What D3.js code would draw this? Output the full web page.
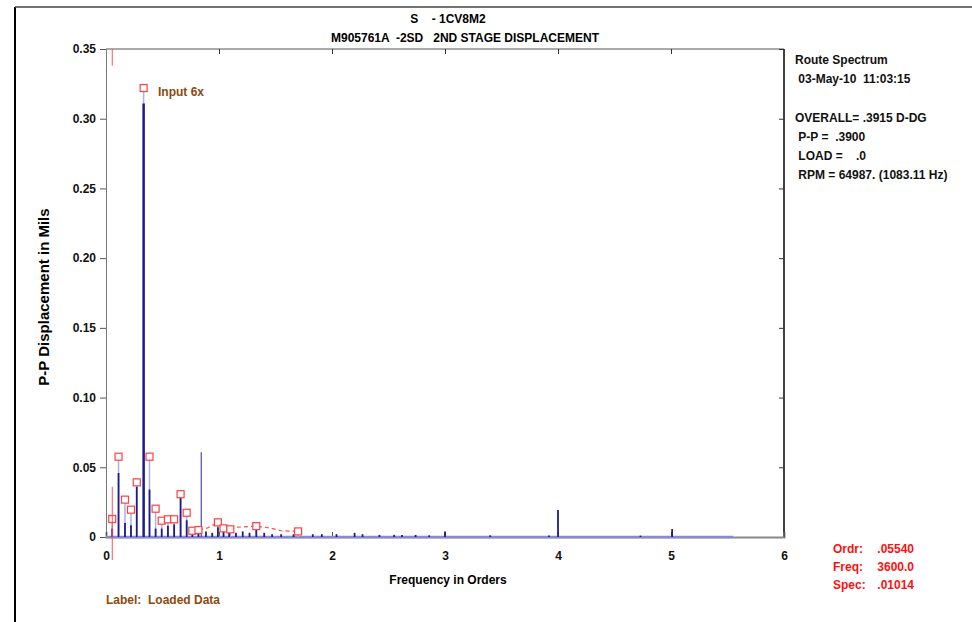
<!DOCTYPE html>
<html>
<head>
<meta charset="utf-8">
<script src="https://cdn.jsdelivr.net/npm/d3@7"></script>
<style>
  body { margin: 0; background: #fff; }
  svg text { font-family: "Liberation Sans", Arial, sans-serif; font-weight: bold; }
</style>
</head>
<body>
<svg id="chart" width="972" height="622"></svg>
<script>
// spectrum lines (order, P-P mils)
var stemOrders = [0.055,0.111,0.168,0.221,0.272,0.333,0.385,0.439,0.493,0.548,0.603,0.660,0.714,0.764,0.818,0.843,0.885,0.94,0.99,1.04,1.09,1.15,1.21,1.27,1.33,1.40,1.47,1.55,1.66,1.83,1.91,2.04,2.20,2.27,2.42,2.55,2.62,2.74,2.86,3.00,3.40,3.92,4.00,4.73,5.01];
var stemValues = [0.006,0.0459,0.010,0.0084,0.036,0.311,0.034,0.006,0.006,0.008,0.009,0.028,0.012,0.003,0.004,0.0608,0.004,0.003,0.007,0.004,0.003,0.003,0.004,0.003,0.0075,0.003,0.002,0.002,0.002,0.002,0.002,0.002,0.003,0.002,0.0015,0.0015,0.0015,0.0015,0.0012,0.004,0.0012,0.001,0.0194,0.001,0.0057];

// red peak markers
var markerOrders = [0.055,0.111,0.168,0.221,0.272,0.333,0.385,0.439,0.493,0.548,0.603,0.660,0.714,0.764,0.818,0.99,1.04,1.10,1.33,1.70];
var markerValues = [0.0129,0.0576,0.0268,0.0196,0.0392,0.322,0.0576,0.0203,0.0117,0.0127,0.0127,0.0307,0.0174,0.0045,0.0050,0.0105,0.0062,0.0055,0.0078,0.0040];

// dashed red envelope over the low peaks
var envOrders = [0.764,0.818,0.90,0.99,1.04,1.10,1.20,1.33,1.45,1.55,1.70];
var envValues = [0.0045,0.0050,0.0065,0.0105,0.0062,0.0070,0.0072,0.0078,0.0065,0.0045,0.0040];

var yTicks = [0, 0.05, 0.10, 0.15, 0.20, 0.25, 0.30, 0.35];
var xTicks = [0, 1, 2, 3, 4, 5, 6];
var cursorOrder = 0.0554;
var dataEnd = 5.55;

var infoLines = ["Route Spectrum", " 03-May-10  11:03:15", "", "OVERALL= .3915 D-DG", " P-P =  .3900", " LOAD =    .0", " RPM = 64987. (1083.11 Hz)"];
var cursorLabels = ["Ordr:", "Freq:", "Spec:"];
var cursorValues = [".05540", "3600.0", ".01014"];

var navy = '#1c1c8c';
var brown = '#8a4a10';

var svg = d3.select('#chart');
var x = d3.scaleLinear().domain([0, 6]).range([106, 784]);
var y = d3.scaleLinear().domain([0, 0.35]).range([537, 49]);

// outer frame
svg.append('line').attr('x1', 15).attr('x2', 15).attr('y1', 7).attr('y2', 622)
  .attr('stroke', '#000').attr('stroke-width', 2);
svg.append('line').attr('x1', 15).attr('x2', 972).attr('y1', 7).attr('y2', 7)
  .attr('stroke', '#444').attr('stroke-width', 1.5);

// titles
svg.append('text').attr('x', 448).attr('y', 23).attr('text-anchor', 'middle')
  .attr('font-size', 12).attr('xml:space', 'preserve').text('S    - 1CV8M2');
svg.append('text').attr('x', 465).attr('y', 42).attr('text-anchor', 'middle')
  .attr('font-size', 12).attr('xml:space', 'preserve').text('M905761A  -2SD   2ND STAGE DISPLACEMENT');

// plot box
svg.append('line').attr('x1', x(0)).attr('x2', x(6)).attr('y1', y(0.35)).attr('y2', y(0.35))
  .attr('stroke', '#555');
svg.append('line').attr('x1', x(6)).attr('x2', x(6)).attr('y1', y(0.35)).attr('y2', y(0))
  .attr('stroke', '#000').attr('stroke-width', 1.5);

var fmt = function(d) { return d === 0 ? '0' : d3.format('.2f')(d); };

var yAxis = svg.append('g').attr('transform', 'translate(' + x(0) + ',0)')
  .call(d3.axisLeft(y).tickValues(yTicks).tickFormat(fmt).tickSize(6).tickPadding(4));
yAxis.select('.domain').attr('stroke', '#777');
yAxis.selectAll('.tick line').attr('stroke', '#555');
yAxis.selectAll('text').attr('font-size', 12).attr('fill', '#111')
  .attr('font-family', '"Liberation Sans", Arial, sans-serif').attr('font-weight', 'bold');

// right axis ticks pointing inward
svg.append('g').attr('transform', 'translate(' + x(6) + ',0)')
  .call(d3.axisLeft(y).tickValues(yTicks).tickFormat('').tickSize(5))
  .call(function(g) { g.select('.domain').remove(); g.selectAll('line').attr('stroke', '#333'); });

// top axis ticks pointing down
svg.append('g').attr('transform', 'translate(0,' + y(0.35) + ')')
  .call(d3.axisTop(x).tickValues([1, 2, 3, 4, 5]).tickFormat('').tickSize(-5))
  .call(function(g) { g.select('.domain').remove(); g.selectAll('line').attr('stroke', '#333'); });

// bottom axis
var xAxis = svg.append('g').attr('transform', 'translate(0,' + y(0) + ')')
  .call(d3.axisBottom(x).tickValues(xTicks).tickFormat(d3.format('d')).tickSize(-5).tickPadding(14));
xAxis.select('.domain').attr('stroke', '#888').attr('stroke-width', 2);
xAxis.selectAll('.tick line').attr('stroke', '#555');
xAxis.selectAll('text').attr('font-size', 12).attr('fill', '#111')
  .attr('font-family', '"Liberation Sans", Arial, sans-serif').attr('font-weight', 'bold');

// blue baseline where spectrum data exists
svg.append('line').attr('x1', x(0)).attr('x2', x(dataEnd)).attr('y1', y(0)).attr('y2', y(0))
  .attr('stroke', '#8a8ad0').attr('stroke-width', 2.5);

// axis titles
svg.append('text').attr('x', 448).attr('y', 584).attr('text-anchor', 'middle')
  .attr('font-size', 12).text('Frequency in Orders');
svg.append('text').attr('transform', 'translate(49,297) rotate(-90)').attr('text-anchor', 'middle')
  .attr('font-size', 15).text('P-P Displacement in Mils');

// light stems up to the markers
svg.append('g').selectAll('line').data(markerOrders).enter().append('line')
  .attr('x1', d => x(d)).attr('x2', d => x(d))
  .attr('y1', y(0)).attr('y2', (d, i) => y(markerValues[i]) + 3)
  .attr('stroke', '#aeb0dc').attr('stroke-width', 1.5);

// spectrum lines
svg.append('g').selectAll('line').data(stemOrders).enter().append('line')
  .attr('x1', d => x(d)).attr('x2', d => x(d))
  .attr('y1', y(0)).attr('y2', (d, i) => y(stemValues[i]))
  .attr('stroke', (d, i) => stemValues[i] > 0.05 && stemValues[i] < 0.1 ? '#4a4aa8' : navy)
  .attr('stroke-width', (d, i) => stemValues[i] > 0.2 ? 2.5 : (stemValues[i] > 0.05 ? 1.2 : 1.8));

// dashed envelope
svg.append('path')
  .datum(envOrders.map((d, i) => [d, envValues[i]]))
  .attr('d', d3.line().x(d => x(d[0])).y(d => y(d[1])))
  .attr('fill', 'none').attr('stroke', '#ff5050').attr('stroke-width', 1.2)
  .attr('stroke-dasharray', '4,3');

// red markers
svg.append('g').selectAll('rect').data(markerOrders).enter().append('rect')
  .attr('x', d => x(d) - 3.5).attr('y', (d, i) => y(markerValues[i]) - 3.5)
  .attr('width', 7).attr('height', 7)
  .attr('fill', '#fff').attr('stroke', '#ff4040').attr('stroke-width', 1.2);

// cursor
svg.append('line').attr('x1', x(cursorOrder)).attr('x2', x(cursorOrder))
  .attr('y1', y(0.35)).attr('y2', y(0.338)).attr('stroke', '#ff5050');
svg.append('line').attr('x1', x(cursorOrder)).attr('x2', x(cursorOrder))
  .attr('y1', y(0.036)).attr('y2', 560).attr('stroke', '#ff5050');

svg.append('text').attr('x', 158).attr('y', 96).attr('font-size', 12)
  .attr('fill', brown).text('Input 6x');

// info panel
svg.append('g').selectAll('text').data(infoLines).enter().append('text')
  .attr('x', 795).attr('y', (d, i) => 64 + i * 19.2)
  .attr('font-size', 12).attr('fill', '#111').attr('xml:space', 'preserve')
  .text(d => d);

// cursor readout
svg.append('g').selectAll('text').data(cursorLabels).enter().append('text')
  .attr('x', 833).attr('y', (d, i) => 553 + i * 18)
  .attr('font-size', 12).attr('fill', '#ff1010').text(d => d);
svg.append('g').selectAll('text').data(cursorValues).enter().append('text')
  .attr('x', 914).attr('y', (d, i) => 553 + i * 18).attr('text-anchor', 'end')
  .attr('font-size', 12).attr('fill', '#ff1010').text(d => d);

svg.append('text').attr('x', 106).attr('y', 604).attr('font-size', 12)
  .attr('fill', brown).attr('xml:space', 'preserve').text('Label:  Loaded Data');
</script>
</body>
</html>
